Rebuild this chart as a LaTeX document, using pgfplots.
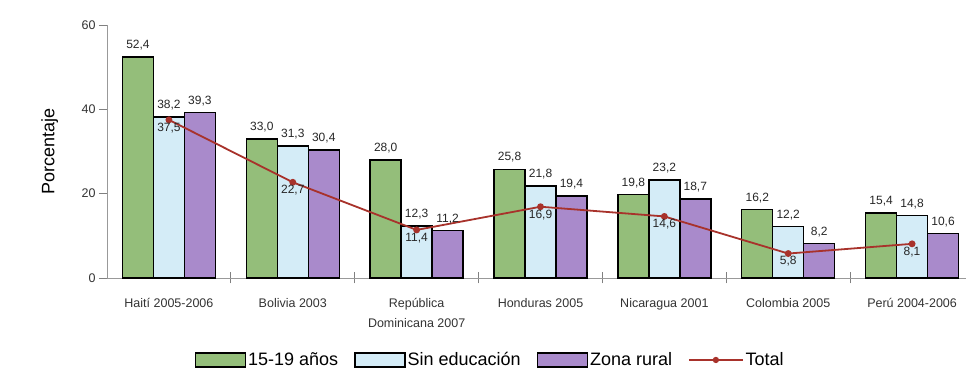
\documentclass[border=0pt]{standalone}
\usepackage{pgfplots}
\pgfplotsset{compat=1.18}
\usepackage{fontspec}
\setmainfont{Liberation Sans}
\definecolor{cgreen}{HTML}{94BE7A}
\definecolor{cblue}{HTML}{D4ECF7}
\definecolor{cpurple}{HTML}{A98ACB}
\definecolor{cred}{HTML}{A8322B}
\begin{document}
\begin{tikzpicture}
\begin{axis}[
  scale only axis, width=867pt, height=253pt,
  xmin=-0.5, xmax=6.5, ymin=0, ymax=60,
  axis x line*=bottom, axis y line*=left,
  axis line style={gray!80, line width=0.8pt},
  major tick length=8pt, minor tick length=11pt,
  xtick={0,...,6},
  xticklabels={Haití 2005-2006, Bolivia 2003, {República\\Dominicana 2007}, Honduras 2005, Nicaragua 2001, Colombia 2005, Perú 2004-2006},
  xticklabel style={align=center, font=\fontsize{12.5}{20}\selectfont, text=black!80, yshift=-13pt},
  major x tick style={draw=none},
  minor xtick={0.5,1.5,2.5,3.5,4.5,5.5},
  minor x tick style={draw=gray, line width=0.8pt},
  xtick align=center,
  ytick={0,20,40,60},
  ytick align=outside,
  y tick style={draw=gray, line width=0.8pt},
  yticklabel style={font=\fontsize{12.5}{14}\selectfont, text=black!80},
  /pgf/number format/assume math mode=true,
  ylabel={Porcentaje},
  ylabel style={at={(axis description cs:-0.066,0.5)}, anchor=center, font=\fontsize{18}{20}\selectfont},
  legend columns=4,
  legend style={draw=none, fill=none, at={(0.442,-0.324)}, anchor=center, font=\fontsize{18}{20}\selectfont,
    /tikz/every even column/.append style={column sep=14pt}},
  nodes near coords style={font=\fontsize{12}{13}\selectfont, text=black!85, inner sep=2pt,
    /pgf/number format/use comma, /pgf/number format/fixed, /pgf/number format/fixed zerofill, /pgf/number format/precision=1},
  clip=false,
]
\addplot[ybar, bar width=0.25, bar shift=0, fill=cgreen, draw=black, line width=1.4pt,
  nodes near coords, every node near coord/.append style={yshift=4pt},
  legend image code/.code={\draw[fill=cgreen, draw=black, line width=1.4pt] (0pt,-7pt) rectangle (50pt,7pt);}]
  coordinates {(-0.25,52.4) (0.75,33.0) (1.75,28.0) (2.75,25.8) (3.75,19.8) (4.75,16.2) (5.75,15.4)};
\addlegendentry{15-19 años}
\addplot[ybar, bar width=0.25, bar shift=0, fill=cblue, draw=black, line width=1.4pt,
  nodes near coords, every node near coord/.append style={yshift=4pt},
  legend image code/.code={\draw[fill=cblue, draw=black, line width=1.4pt] (0pt,-7pt) rectangle (50pt,7pt);}]
  coordinates {(0,38.2) (1,31.3) (2,12.3) (3,21.8) (4,23.2) (5,12.2) (6,14.8)};
\addlegendentry{Sin educación}
\addplot[ybar, bar width=0.25, bar shift=0, fill=cpurple, draw=black, line width=1.4pt,
  nodes near coords, every node near coord/.append style={yshift=4pt},
  legend image code/.code={\draw[fill=cpurple, draw=black, line width=1.4pt] (0pt,-7pt) rectangle (50pt,7pt);}]
  coordinates {(0.25,39.3) (1.25,30.4) (2.25,11.2) (3.25,19.4) (4.25,18.7) (5.25,8.2) (6.25,10.6)};
\addlegendentry{Zona rural}
\addplot[cred, line width=1.8pt, mark=*, mark size=2.5pt, mark options={fill=cred, draw=cred},
  nodes near coords, nodes near coords align={below},
  legend image code/.code={\draw[cred, line width=1.5pt] (0pt,0pt) -- (54pt,0pt); \fill[cred] (27pt,0pt) circle (2.2pt);}]
  coordinates {(0,37.5) (1,22.7) (2,11.4) (3,16.9) (4,14.6) (5,5.8) (6,8.1)};
\addlegendentry{Total}
\end{axis}
\pgfresetboundingbox
\path[use as bounding box] (-107pt,-93pt) rectangle (859pt,278pt);
\end{tikzpicture}
\end{document}
